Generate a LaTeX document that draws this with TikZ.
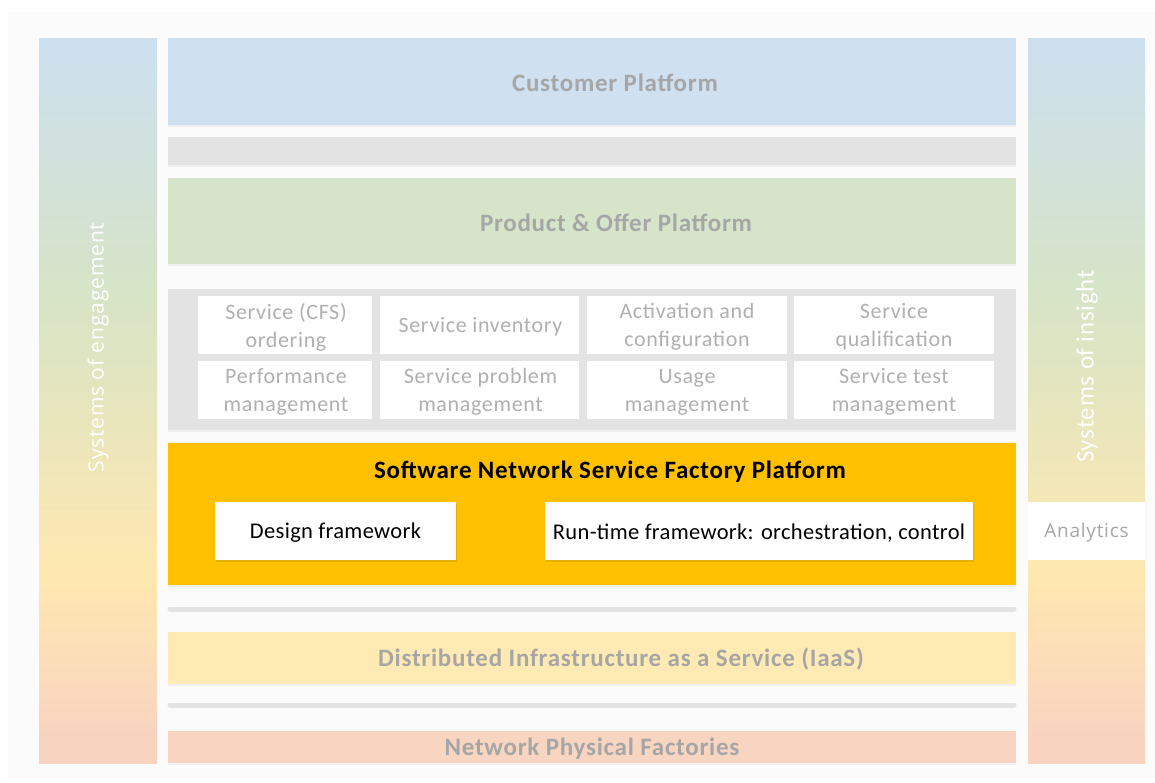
\documentclass[tikz,border=0pt]{standalone}
\usepackage{fontspec}
\setmainfont{Carlito}
\newfontfamily\cals{Carlito}[LetterSpace=3]
\newfontfamily\calm{Carlito}[LetterSpace=1.5]
\newfontfamily\osansls{Open Sans}[LetterSpace=4]
\usetikzlibrary{shadows}
\definecolor{cblue}{HTML}{CFE0F1}
\definecolor{cgreen}{HTML}{D6E5C9}
\definecolor{cgrayb}{HTML}{E3E3E3}
\definecolor{corange}{HTML}{FFC000}
\definecolor{cyellow}{HTML}{FFEAB3}
\definecolor{cpeach}{HTML}{F8D5C0}
\definecolor{ctext}{HTML}{A6A6A6}
\definecolor{ccell}{HTML}{B0B0B0}
\definecolor{cbg}{HTML}{FBFBFC}
\definecolor{gblue}{HTML}{CCDFEF}
\definecolor{ggreen}{HTML}{D7E4C6}
\definecolor{gyellow}{HTML}{FFE8B0}
\definecolor{gpeach}{HTML}{F8D4C0}
\pgfdeclareverticalshading{sidegrad}{100bp}{color(0bp)=(gpeach); color(27bp)=(gpeach); color(38bp)=(gyellow); color(57bp)=(ggreen); color(75bp)=(gblue); color(100bp)=(gblue)}
\tikzset{
  layer/.style={rectangle, inner sep=0pt, minimum width=848pt,
    drop shadow={shadow xshift=0pt, shadow yshift=-2pt, opacity=0.08, fill=black!60}},
  layertext/.style={inner sep=0pt, yshift=-1.5pt, font=\cals\bfseries\fontsize{25}{27}\selectfont, text=ctext},
  cell/.style={rectangle, fill=white, inner sep=0pt, minimum height=58pt, align=center, text=ccell,
    font=\cals\fontsize{22}{28}\selectfont},
  celltext/.style={inner sep=0pt, align=center, text=ccell, yshift=-2pt,
    font=\cals\fontsize{22}{28}\selectfont},
  wbox/.style={rectangle, fill=white, inner sep=0pt, minimum height=58pt,
    drop shadow={shadow xshift=1pt, shadow yshift=-2pt, opacity=0.15, fill=black!70}},
  wtext/.style={inner sep=0pt, text=black, yshift=-2pt, font=\calm\fontsize{22.5}{26}\selectfont},
  sidebar/.style={rectangle, inner sep=0pt, shading=sidegrad, minimum height=725pt},
  sidetext/.style={rotate=90, text=white, inner sep=0pt},
  sepline/.style={line width=5pt, draw=cgrayb, line cap=round},
}
\begin{document}
\begin{tikzpicture}[x=1pt,y=-1pt]
\useasboundingbox (0,0) rectangle (1155,782);
\fill[white] (0,0) rectangle (1155,782);
\fill[cbg] (8,12) rectangle (1155,778);
% side bars
\node[sidebar, minimum width=118pt] (eng) at (98,400.5) {};
\node[sidebar, minimum width=117pt] (ins) at (1086.5,400.5) {};
\node[sidetext, font=\osansls\fontsize{21}{24}\selectfont] (engt) at (98,347.5) {Systems of engagement};
\node[sidetext, font=\cals\fontsize{25}{27}\selectfont] (inst) at (1087,366.5) {Systems of insight};
\node[rectangle, fill=white, inner sep=0pt, minimum width=117pt, minimum height=58pt] (ana) at (1086.5,531) {};
\node[inner sep=0pt, yshift=-1.5pt, text=ctext, font=\osansls\fontsize{19}{22}\selectfont] (anat) at (ana.center) {Analytics};
% layers
\node[layer, fill=cblue, minimum height=87pt] (cust) at (592,81.5) {};
\node[layertext] (custt) at ([xshift=23pt]cust.center) {Customer Platform};
\node[layer, fill=cgrayb, minimum height=28pt] (gbar) at (592,151) {};
\node[layer, fill=cgreen, minimum height=86pt] (prod) at (592,221) {};
\node[layertext] (prodt) at ([xshift=24pt]prod.center) {Product \& Offer Platform};
\node[layer, fill=cgrayb, minimum height=141pt] (svc) at (592,359.5) {};
\node[cell, minimum width=174pt] (c11) at (285,325) {};
\node[cell, minimum width=199pt] (c12) at (479.5,325) {};
\node[cell, minimum width=200pt] (c13) at (687,325) {};
\node[cell, minimum width=200pt] (c14) at (894,325) {};
\node[cell, minimum width=174pt] (c21) at (285,390) {};
\node[cell, minimum width=199pt] (c22) at (479.5,390) {};
\node[cell, minimum width=200pt] (c23) at (687,390) {};
\node[cell, minimum width=200pt] (c24) at (894,390) {};
\node[celltext] (c11t) at ([xshift=1pt]c11.center) {Service (CFS)\\ordering};
\node[celltext] (c12t) at ([xshift=1pt]c12.center) {Service inventory};
\node[celltext] (c13t) at (c13.center) {Activation and\\configuration};
\node[celltext] (c14t) at (c14.center) {Service\\qualification};
\node[celltext] (c21t) at ([xshift=1pt]c21.center) {Performance\\management};
\node[celltext] (c22t) at ([xshift=1pt]c22.center) {Service problem\\management};
\node[celltext] (c23t) at (c23.center) {Usage\\management};
\node[celltext] (c24t) at (c24.center) {Service test\\management};
\node[layer, fill=corange, minimum height=142pt] (sf) at (592,514) {};
\node[inner sep=0pt, yshift=-2pt, font=\cals\bfseries\fontsize{25}{27}\selectfont, text=black] (sft) at (610,470) {Software Network Service Factory Platform};
\node[wbox, minimum width=241pt] (des) at (335.5,531) {};
\node[wtext] (dest) at (des.center) {Design framework};
\node[wbox, minimum width=428pt] (run) at (759,531) {};
\node[wtext] (runt) at (run.center) {Run-time framework: orchestration, control};
\coordinate (l1a) at (170,609);
\coordinate (l1b) at (1014,609);
\draw[sepline] (l1a) -- (l1b);
\node[layer, fill=cyellow, minimum height=52pt] (iaas) at (592,658) {};
\node[layertext] (iaast) at ([xshift=29pt]iaas.center) {Distributed Infrastructure as a Service (IaaS)};
\coordinate (l2a) at (170,705);
\coordinate (l2b) at (1014,705);
\draw[sepline] (l2a) -- (l2b);
\node[layer, fill=cpeach, minimum height=32pt] (npf) at (592,747) {};
\node[layertext] (npft) at (npf.center) {Network Physical Factories};
\end{tikzpicture}
\end{document}
